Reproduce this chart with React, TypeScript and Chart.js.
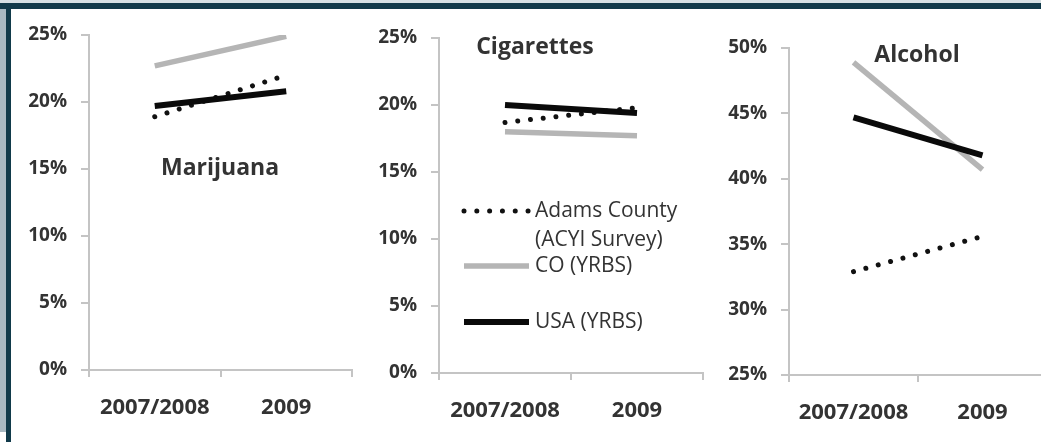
import React, { useEffect, useRef } from "react";
import { Chart, registerables } from "chart.js";

Chart.register(...registerables);

// ---------- data ----------
const categories = ["2007/2008", "2009"];
const legendLabels = [["Adams County", "(ACYI Survey)"], ["CO (YRBS)"], ["USA (YRBS)"]];

const marijuanaAdams = [18.9, 22.0];
const marijuanaCO = [22.7, 24.9];
const marijuanaUSA = [19.7, 20.8];

const cigarettesAdams = [18.7, 19.8];
const cigarettesCO = [18.0, 17.7];
const cigarettesUSA = [20.0, 19.4];

const alcoholAdams = [32.9, 35.6];
const alcoholCO = [48.9, 40.7];
const alcoholUSA = [44.7, 41.8];

const lowRange = [0, 25];
const highRange = [25, 50];
const tickStep = 5;

// ---------- styles ----------
const FONT = "'Open Sans', 'DejaVu Sans', sans-serif";
const TEXT = "#333333";
const AXIS = "#c4c4c4";
const DARK = "#113a4a";

const seriesStyles = [
  { borderColor: "#111111", borderWidth: 5, borderDash: [0.01, 12.8], borderCapStyle: "round", order: 2 },
  { borderColor: "#b5b5b5", borderWidth: 5.5, borderDash: [], borderCapStyle: "butt", order: 3 },
  { borderColor: "#0a0a0a", borderWidth: 6, borderDash: [], borderCapStyle: "butt", order: 1 },
];

type PanelCfg = {
  left: number;
  width: number;
  chartTop: number;
  chartBottom: number;
  chartRight: number;
  range: number[];
  series: number[][];
  title: string;
  titleX: number;
  titleY: number;
  legend?: { x1: number; x2: number; textX: number; rows: number[]; lineGap: number };
};

const panels: PanelCfg[] = [
  {
    left: 0, width: 360, chartTop: 35, chartBottom: 370, chartRight: 352,
    range: lowRange, series: [marijuanaAdams, marijuanaCO, marijuanaUSA],
    title: "Marijuana", titleX: 220, titleY: 168,
  },
  {
    left: 350, width: 360, chartTop: 38, chartBottom: 373, chartRight: 353,
    range: lowRange, series: [cigarettesAdams, cigarettesCO, cigarettesUSA],
    title: "Cigarettes", titleX: 185, titleY: 47,
    legend: { x1: 114, x2: 179, textX: 185, rows: [211, 266, 322], lineGap: 29 },
  },
  {
    left: 700, width: 355, chartTop: 48, chartBottom: 375, chartRight: 347,
    range: highRange, series: [alcoholAdams, alcoholCO, alcoholUSA],
    title: "Alcohol", titleX: 217, titleY: 55,
  },
];

function Panel({ cfg }: { cfg: PanelCfg }) {
  const ref = useRef<HTMLCanvasElement>(null);
  const height = cfg.chartBottom + 72;

  useEffect(() => {
    const overlay = {
      id: "overlay",
      afterDraw(chart: any) {
        const ctx = chart.ctx as CanvasRenderingContext2D;
        ctx.save();
        ctx.fillStyle = TEXT;
        ctx.font = `bold 23px ${FONT}`;
        ctx.textAlign = "center";
        ctx.textBaseline = "middle";
        ctx.fillText(cfg.title, cfg.titleX, cfg.titleY);
        if (cfg.legend) {
          const lg = cfg.legend;
          chart.data.datasets.forEach((ds: any, i: number) => {
            const y = lg.rows[i];
            ctx.save();
            ctx.strokeStyle = ds.borderColor;
            ctx.lineWidth = ds.borderWidth;
            ctx.setLineDash(ds.borderDash || []);
            ctx.lineCap = ds.borderCapStyle || "butt";
            ctx.beginPath();
            ctx.moveTo(lg.x1, y);
            ctx.lineTo(lg.x2, y);
            ctx.stroke();
            ctx.restore();
            ctx.fillStyle = TEXT;
            ctx.font = `21px ${FONT}`;
            ctx.textAlign = "left";
            ctx.textBaseline = "middle";
            legendLabels[i].forEach((line, j) => {
              ctx.fillText(line, lg.textX, y + j * lg.lineGap);
            });
          });
        }
        ctx.restore();
      },
    };

    const chart = new Chart(ref.current!, {
      type: "line",
      data: {
        labels: categories,
        datasets: cfg.series.map((values, i) => ({
          label: legendLabels[i].join(" "),
          data: values,
          ...seriesStyles[i],
          fill: false,
          tension: 0,
          pointRadius: 0,
          pointHoverRadius: 0,
        })) as any,
      },
      options: {
        responsive: false,
        animation: false,
        devicePixelRatio: 1,
        layout: {
          padding: { top: cfg.chartTop, right: cfg.width - cfg.chartRight, left: 0, bottom: 0 },
        },
        plugins: { legend: { display: false }, tooltip: { enabled: false } },
        scales: {
          x: {
            type: "category",
            offset: true,
            grid: { offset: true, drawOnChartArea: false, drawTicks: true, tickLength: 7, color: AXIS, lineWidth: 2 },
            border: { display: true, color: AXIS, width: 2 },
            ticks: { color: TEXT, font: { family: FONT, size: 22, weight: "bold" }, padding: 18, maxRotation: 0 },
            afterFit: (s: any) => { s.height = 72; },
          },
          y: {
            min: cfg.range[0],
            max: cfg.range[1],
            grid: { drawOnChartArea: false, drawTicks: true, tickLength: 8, color: AXIS, lineWidth: 2 },
            border: { display: true, color: AXIS, width: 2 },
            ticks: {
              stepSize: tickStep,
              color: TEXT,
              font: { family: FONT, size: 19, weight: "bold" },
              padding: 14,
              callback: (v: any) => `${v}%`,
            },
            afterFit: (s: any) => { s.width = 89; },
          },
        },
      } as any,
      plugins: [overlay],
    });
    return () => chart.destroy();
  }, []);

  return (
    <canvas
      ref={ref}
      width={cfg.width}
      height={height}
      style={{ position: "absolute", left: cfg.left, top: 0, width: cfg.width, height }}
    />
  );
}

export default function App() {
  return (
    <div style={{ position: "fixed", left: 0, top: 0, width: 1041, height: 442, overflow: "hidden", background: "#fff" }}>
      {panels.map((p, i) => (
        <Panel key={i} cfg={p} />
      ))}
      <div style={{ position: "absolute", left: 0, top: 0, width: 1041, height: 3, background: "#d6e0e4" }} />
      <div style={{ position: "absolute", left: 0, top: 3, width: 1041, height: 6, background: DARK }} />
      <div style={{ position: "absolute", left: 0, top: 9, width: 6, height: 423, background: "#a9b9c2" }} />
      <div style={{ position: "absolute", left: 6, top: 3, width: 5, height: 439, background: DARK }} />
    </div>
  );
}
